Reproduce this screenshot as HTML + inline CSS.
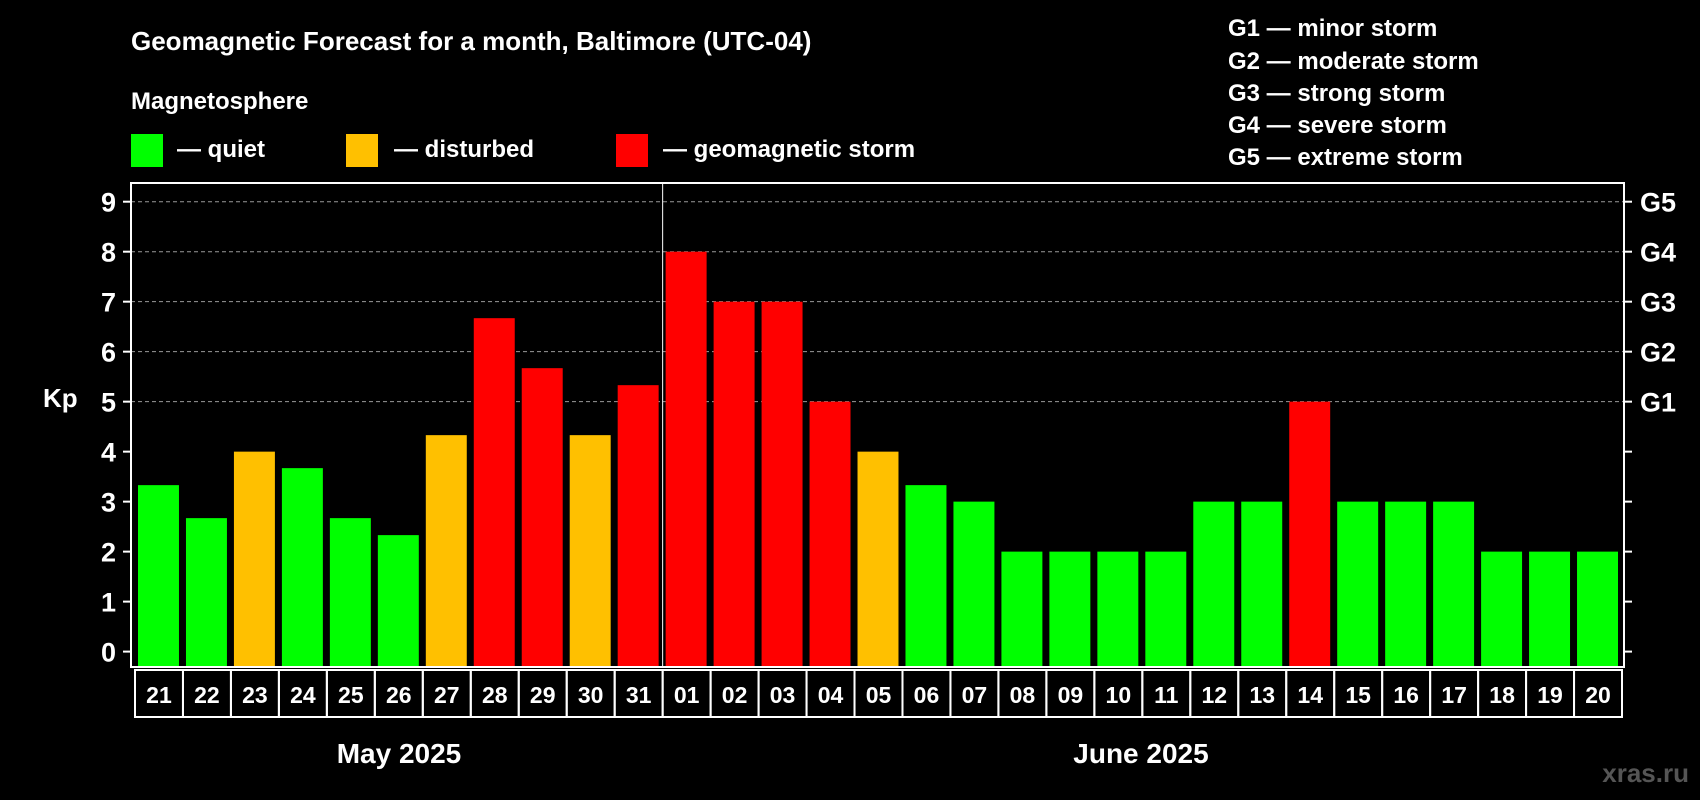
<!DOCTYPE html>
<html><head><meta charset="utf-8"><style>
html,body{margin:0;padding:0;background:#000;}
svg{display:block;font-family:"Liberation Sans",Arial,sans-serif;font-weight:bold;}
</style></head><body>
<svg id="chart" width="1700" height="800" viewBox="0 0 1700 800">
<rect x="0" y="0" width="1700" height="800" fill="#000"/>
<text x="131" y="50" fill="#fff" font-size="26">Geomagnetic Forecast for a month, Baltimore (UTC-04)</text>
<text x="131" y="109" fill="#fff" font-size="24">Magnetosphere</text>
<g>
<rect x="131" y="134" width="32" height="33" fill="#00ff00"/>
<text x="177" y="157" fill="#fff" font-size="24">— quiet</text></g>
<g>
<rect x="346" y="134" width="32" height="33" fill="#ffc000"/>
<text x="394" y="157" fill="#fff" font-size="24">— disturbed</text></g>
<g>
<rect x="616" y="134" width="32" height="33" fill="#ff0000"/>
<text x="663" y="157" fill="#fff" font-size="24">— geomagnetic storm</text></g>
<g font-size="24" fill="#fff">
<text x="1228" y="36">G1 — minor storm</text>
<text x="1228" y="69">G2 — moderate storm</text>
<text x="1228" y="101">G3 — strong storm</text>
<text x="1228" y="133">G4 — severe storm</text>
<text x="1228" y="165">G5 — extreme storm</text>
</g>
<text x="43" y="407" fill="#fff" font-size="26">Kp</text>
<text x="399" y="763" fill="#fff" font-size="28" text-anchor="middle">May 2025</text>
<text x="1141" y="763" fill="#fff" font-size="28" text-anchor="middle">June 2025</text>
<text x="1689" y="782" fill="#555" font-size="26" text-anchor="end">xras.ru</text>
<g id="grid"></g><g id="bars"></g><g id="axes"></g>
</svg>
<script>
const dates = ["21","22","23","24","25","26","27","28","29","30","31","01","02","03","04","05","06","07","08","09","10","11","12","13","14","15","16","17","18","19","20"];
const kpValues = [3.33,2.67,4,3.67,2.67,2.33,4.33,6.67,5.67,4.33,5.33,8,7,7,5,4,3.33,3,2,2,2,2,3,3,5,3,3,3,2,2,2];
const yTicks = [0,1,2,3,4,5,6,7,8,9];
const gLabels = ["","","","","","G1","G2","G3","G4","G5"];
const NS="http://www.w3.org/2000/svg";
const PL=131,PR=1624,PT=183,PB=667;
const y0=651.6,y9=201.7;
const yScale=v=>y0+(y9-y0)*v/9;
const SX0=135,SX1=1622;
const slot=(SX1-SX0)/dates.length;
const xScale=i=>SX0+slot*i;
function mk(tag,attrs,parent){const e=document.createElementNS(NS,tag);for(const k in attrs)e.setAttribute(k,attrs[k]);parent.appendChild(e);return e;}
const grid=document.getElementById('grid'),bars=document.getElementById('bars'),axes=document.getElementById('axes');
function color(v){return v>=5?"#ff0000":(v>=4?"#ffc000":"#00ff00");}
yTicks.forEach((t,i)=>{
  const y=yScale(t);
  if(t>=5){const g=mk('line',{x1:PL,x2:PR,y1:y,y2:y,stroke:'#999','stroke-width':1,'stroke-dasharray':'4,3'},grid);
    
    }
  const tl=mk('line',{x1:PL-8,x2:PL,y1:y,y2:y,stroke:'#fff','stroke-width':2},axes);
  
  
  const tr=mk('line',{x1:PR,x2:PR+8,y1:y,y2:y,stroke:'#fff','stroke-width':2},axes);
  
  
  const lb=mk('text',{x:116,y:y+10,fill:'#fff','font-size':27,'text-anchor':'end'},axes);
  lb.textContent=t;
  
  
  if(gLabels[i]){const gl=mk('text',{x:1640,y:y+10,fill:'#fff','font-size':27},axes);
    gl.textContent=gLabels[i];
    
    }
});
kpValues.forEach((v,i)=>{
  const x=xScale(i)+3,w=slot-7;
  const r=mk('rect',{x:x,y:yScale(v),width:w,height:PB-1-yScale(v),fill:color(v)},bars);
  
  
  const c=mk('rect',{x:xScale(i),y:670,width:slot,height:47,fill:'none',stroke:'#fff','stroke-width':2},axes);
  
  
  const t=mk('text',{x:xScale(i)+slot/2,y:703,fill:'#fff','font-size':23,'text-anchor':'middle'},axes);
  t.textContent=dates[i];
  
  
});
const box=mk('rect',{x:PL,y:PT,width:PR-PL,height:PB-PT,fill:'none',stroke:'#fff','stroke-width':2},axes);


const dv=mk('line',{x1:xScale(11),x2:xScale(11),y1:PT,y2:PB,stroke:'#fff','stroke-width':1},axes);


</script>
</body></html>
